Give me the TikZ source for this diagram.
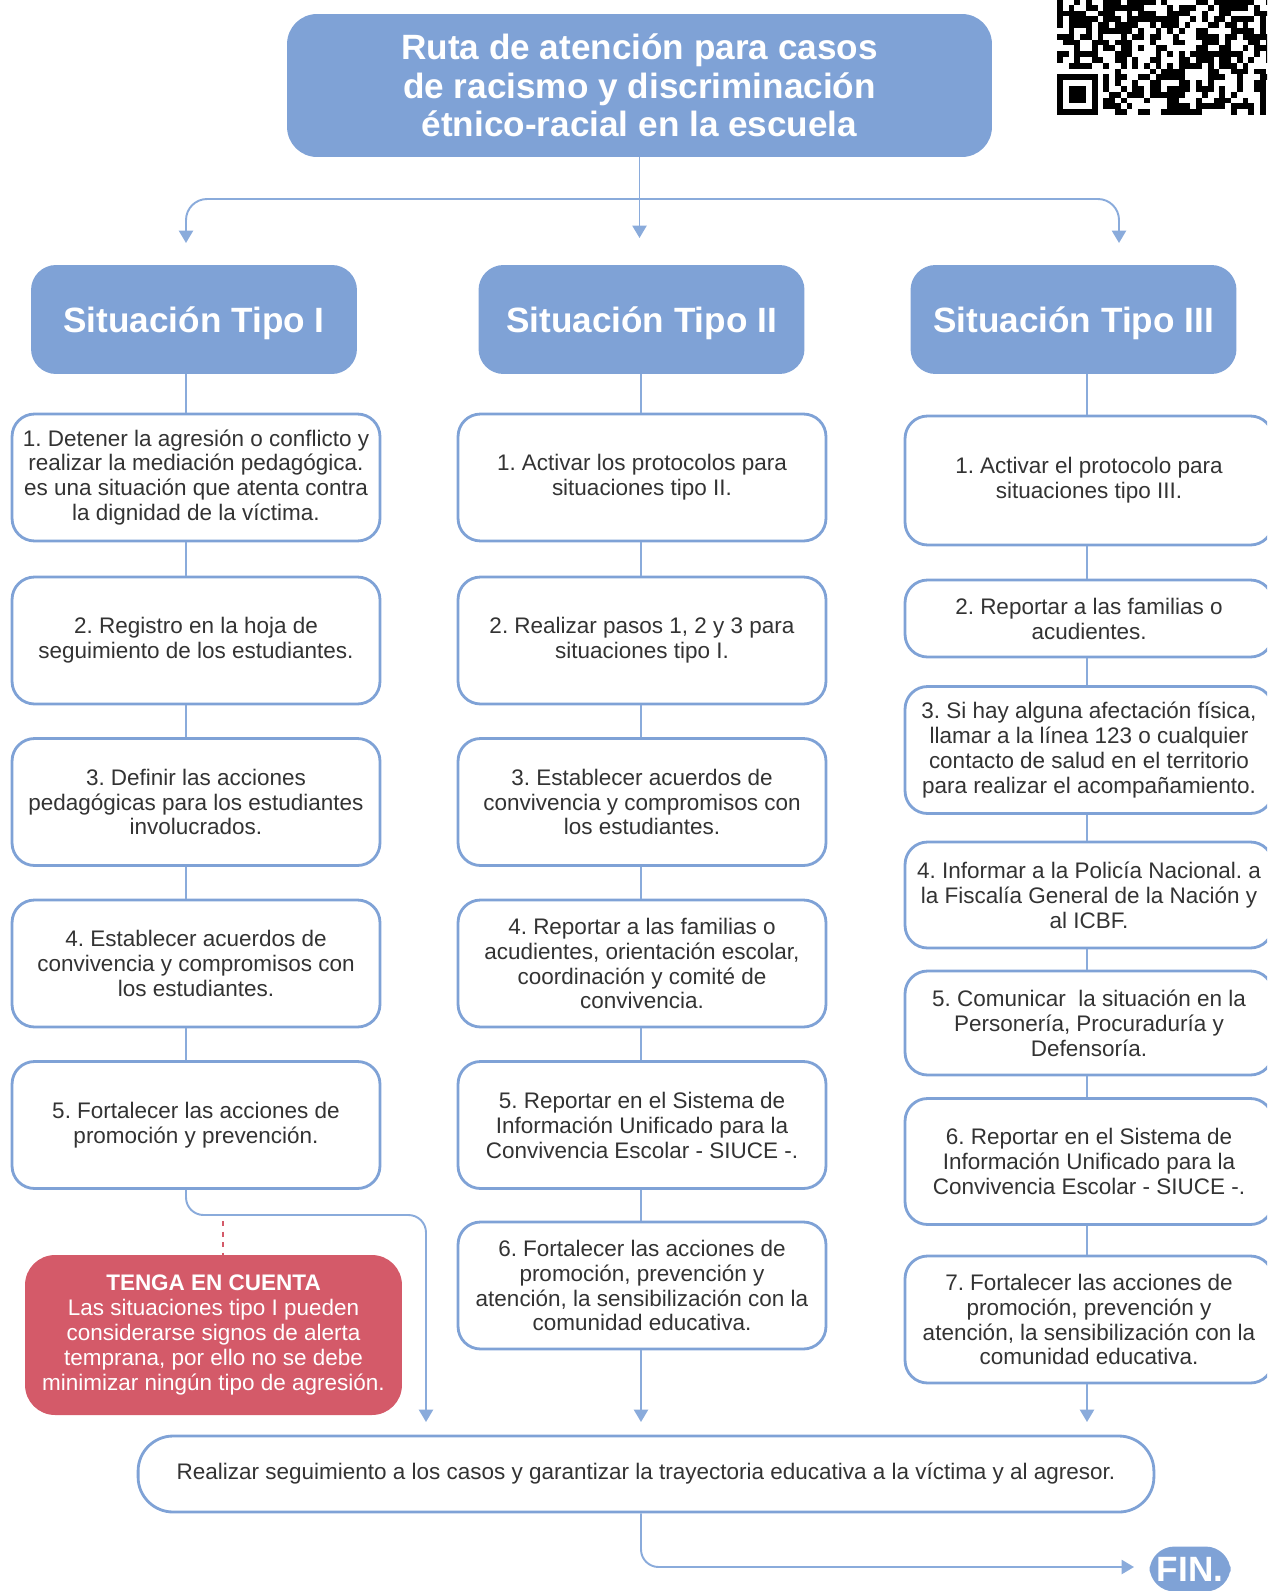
\documentclass[tikz,border=0pt]{standalone}
\usepackage{fontspec}
\setmainfont{Liberation Sans}
\usetikzlibrary{arrows.meta}
\definecolor{rutaazul}{HTML}{7FA2D6}
\definecolor{lineaazul}{HTML}{8AABDB}
\definecolor{alerta}{HTML}{D45A69}
\definecolor{texto}{HTML}{333333}
\newcommand{\paso}{\fontsize{12.8}{14.2}\selectfont}
\newcommand{\titulo}{\fontsize{20}{21.8}\selectfont\bfseries}
\frenchspacing

\begin{document}
\begin{tikzpicture}[x=0.02cm,y=-0.02cm,
	caja/.style={draw=rutaazul, line width=1.6pt, rounded corners=0.45cm, fill=white, text=texto, align=center, minimum width=7.36cm, inner sep=2pt, font=\paso},
	cabeza/.style={fill=rutaazul, rounded corners=0.5cm, text=white, align=center, minimum width=6.52cm, minimum height=2.18cm, font=\titulo},
	tipo/.style={cabeza, text depth=0pt},
	linea/.style={draw=lineaazul, line width=1.1pt},
	flecha/.style={linea, -{Triangle[width=8pt,length=7pt]}}]
			\useasboundingbox (0,0) rectangle (1267,1591);
			\clip (0,0) rectangle (1267,1591);
			\pgfmathsetseed{11}
			\foreach \i in {0,...,36}{
				\foreach \j in {0,...,19}{
					\pgfmathtruncatemacro\on{((\i>7) || (\j>7)) && (rnd>0.45)}
					\ifnum\on=1 \fill ({1057+\i*5.8},{115-\j*5.8}) rectangle ++(5.8,-5.8); \fi
				}
			}
			\fill (1057,115) rectangle ++(40.6,-40.6);
			\fill[white] (1062.8,109.2) rectangle ++(29,-29);
			\fill (1068.6,103.4) rectangle ++(17.4,-17.4);
			\node[cabeza, minimum width=14.1cm, minimum height=2.86cm, rounded corners=0.6cm] (ruta) at (639.5,85.5) {Ruta de atención para casos\\de racismo y discriminación\\étnico-racial en la escuela};
			\node[tipo] (h1) at (194,319.5) {Situación Tipo I};
			\node[tipo] (h2) at (641.5,319.5) {Situación Tipo II};
			\node[tipo] (h3) at (1073.5,319.5) {Situación Tipo III};
			\coordinate (s1) at (186,0);
			\coordinate (s2) at (641,0);
			\coordinate (s3) at (1087,0);
			\coordinate (a1) at (186,243);
			\coordinate (a2) at (639.5,238);
			\coordinate (a3) at (1119,243);
			\coordinate (hl) at (186,199);
			\coordinate (hr) at (1119,199);
			\draw[flecha] (ruta.south) -- (a2);
			\draw[linea, {Triangle[width=8pt,length=7pt]}-{Triangle[width=8pt,length=7pt]}, rounded corners=12] (a1) -- (hl) -- (hr) -- (a3);
			\node[caja, minimum height=2.54cm] (b11) at (196,477.5) {1. Detener la agresión o conflicto y\\realizar la mediación pedagógica.\\es una situación que atenta contra\\la dignidad de la víctima.};
			\node[caja, minimum height=2.54cm] (b12) at (196,640.5) {2. Registro en la hoja de\\seguimiento de los estudiantes.};
			\node[caja, minimum height=2.54cm] (b13) at (196,802) {3. Definir las acciones\\pedagógicas para los estudiantes\\involucrados.};
			\node[caja, minimum height=2.54cm] (b14) at (196,963.5) {4. Establecer acuerdos de\\convivencia y compromisos con\\los estudiantes.};
			\node[caja, minimum height=2.54cm] (b15) at (196,1125) {5. Fortalecer las acciones de\\promoción y prevención.};
			\node[caja, minimum height=2.54cm] (b21) at (642,477.5) {1. Activar los protocolos para\\situaciones tipo II.};
			\node[caja, minimum height=2.54cm] (b22) at (642,640.5) {2. Realizar pasos 1, 2 y 3 para\\situaciones tipo I.};
			\node[caja, minimum height=2.54cm] (b23) at (642,802) {3. Establecer acuerdos de\\convivencia y compromisos con\\los estudiantes.};
			\node[caja, minimum height=2.54cm] (b24) at (642,963.5) {4. Reportar a las familias o\\acudientes, orientación escolar,\\coordinación y comité de\\convivencia.};
			\node[caja, minimum height=2.54cm] (b25) at (642,1125) {5. Reportar en el Sistema de\\Información Unificado para la\\Convivencia Escolar - SIUCE -.};
			\node[caja, minimum height=2.54cm] (b26) at (642,1285.5) {6. Fortalecer las acciones de\\promoción, prevención y\\atención, la sensibilización con la\\comunidad educativa.};
			\node[caja, minimum height=2.58cm] (b31) at (1089,480.5) {1. Activar el protocolo para\\situaciones tipo III.};
			\node[caja, minimum height=1.54cm] (b32) at (1089,618.5) {2. Reportar a las familias o\\acudientes.};
			\node[caja, minimum height=2.54cm] (b33) at (1089,750) {3. Si hay alguna afectación física,\\llamar a la línea 123 o cualquier\\contacto de salud en el territorio\\para realizar el acompañamiento.};
			\node[caja, minimum height=2.12cm] (b34) at (1089,895) {4. Informar a la Policía Nacional. a\\la Fiscalía General de la Nación y\\al ICBF.};
			\node[caja, minimum height=2.08cm] (b35) at (1089,1023) {5. Comunicar\ \ la situación en la\\Personería, Procuraduría y\\Defensoría.};
			\node[caja, minimum height=2.52cm] (b36) at (1089,1161.5) {6. Reportar en el Sistema de\\Información Unificado para la\\Convivencia Escolar - SIUCE -.};
			\node[caja, minimum height=2.54cm] (b37) at (1089,1319.5) {7. Fortalecer las acciones de\\promoción, prevención y\\atención, la sensibilización con la\\comunidad educativa.};
			\foreach \a/\b in {h1/b11,b11/b12,b12/b13,b13/b14,b14/b15}
				\draw[linea] (\a.south -| s1) -- (\b.north -| s1);
			\foreach \a/\b in {h2/b21,b21/b22,b22/b23,b23/b24,b24/b25,b25/b26}
				\draw[linea] (\a.south -| s2) -- (\b.north -| s2);
			\foreach \a/\b in {h3/b31,b31/b32,b32/b33,b33/b34,b34/b35,b35/b36,b36/b37}
				\draw[linea] (\a.south -| s3) -- (\b.north -| s3);
			\node[fill=alerta, rounded corners=0.6cm, text=white, align=center, font=\paso, minimum width=7.54cm, minimum height=3.2cm] (aviso) at (213.5,1335) {\textbf{TENGA EN CUENTA}\\Las situaciones tipo I pueden\\considerarse signos de alerta\\temprana, por ello no se debe\\minimizar ningún tipo de agresión.};
			\node[caja, minimum width=20.32cm, minimum height=1.52cm, rounded corners=0.7cm] (seguimiento) at (646,1474) {Realizar seguimiento a los casos y garantizar la trayectoria educativa a la víctima y al agresor.};
			\node[fill=rutaazul, rounded corners=0.5cm, text=white, font=\titulo, minimum width=1.62cm, minimum height=0.9cm, text depth=0pt] (fin) at (1190,1569) {FIN.};
			\coordinate (k1) at (426,1215);
			\coordinate (d1) at (223,1221);
			\coordinate (t1) at (426,1422);
			\coordinate (t2) at (641,1422);
			\coordinate (t3) at (1087,1422);
			\coordinate (t4) at (1134,1567);
			\draw[flecha, rounded corners=10] (b15.south -| s1) |- (k1) -- (t1);
			\draw[alerta, line width=1.2pt, dash pattern=on 3pt off 3pt] (d1) -- (aviso.north -| d1);
			\draw[flecha] (b26.south -| s2) -- (t2);
			\draw[flecha] (b37.south -| s3) -- (t3);
			\draw[flecha, rounded corners=10] (seguimiento.south -| t2) |- (t4);
		\end{tikzpicture}
\end{document}
